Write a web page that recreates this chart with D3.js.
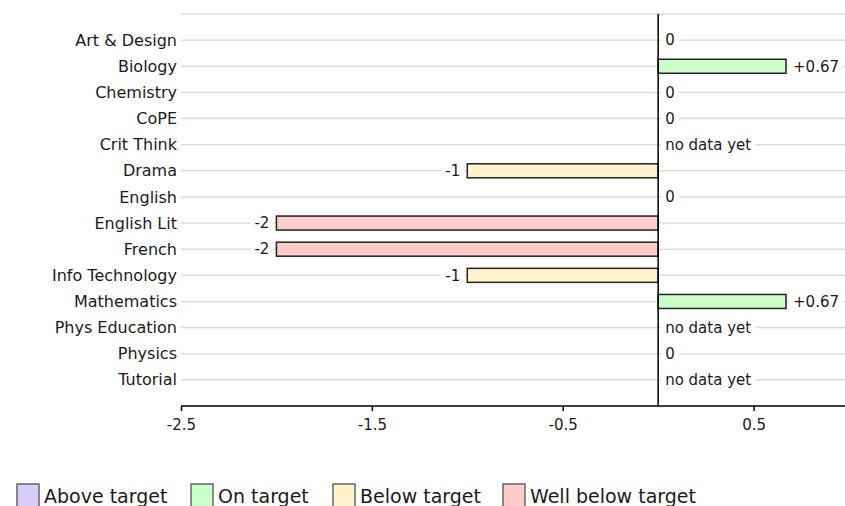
<!DOCTYPE html>
<html>
<head>
<meta charset="utf-8">
<script src="https://cdn.jsdelivr.net/npm/d3@7"></script>
<style>
    body { margin: 0; background: #fff; }
    svg text { font-family: "DejaVu Sans", Verdana, sans-serif; fill: #1a1a1a; }
</style>
</head>
<body>
<svg id="chart" width="845" height="506"></svg>
<script>
// subjects top to bottom
var subjects = ["Art & Design", "Biology", "Chemistry", "CoPE", "Crit Think", "Drama", "English",
    "English Lit", "French", "Info Technology", "Mathematics", "Phys Education", "Physics", "Tutorial"];
// null = no data yet
var values = [0, 0.67, 0, 0, null, -1, 0, -2, -2, -1, 0.67, null, 0, null];
var valueLabels = ["0", "+0.67", "0", "0", "no data yet", "-1", "0", "-2", "-2", "-1", "+0.67", "no data yet", "0", "no data yet"];
var bands = ["", "On target", "", "", "", "Below target", "", "Well below target", "Well below target",
    "Below target", "On target", "", "", ""];
var xTicks = [-2.5, -1.5, -0.5, 0.5];
var legendNames = ["Above target", "On target", "Below target", "Well below target"];
var legendColors = ["#d9ccff", "#ccffcc", "#fff2cc", "#ffcccc"];

var svg = d3.select("#chart");
var plotLeft = 181, plotRight = 849, plotTop = 14, plotBottom = 406;

var x = d3.scaleLinear().domain([-2.5, 1]).range([plotLeft, plotRight]);
// one empty slot above and below, so the top gridline sits on the edge
var y = d3.scalePoint().domain(["_top"].concat(subjects).concat(["_bot"])).range([plotTop, plotBottom]);
var colour = d3.scaleOrdinal().domain(legendNames).range(legendColors);
var barH = 14;

var rows = subjects.map(function (s, i) {
    return { name: s, v: values[i], lab: valueLabels[i], band: bands[i] };
});

// gridlines
svg.append("g").selectAll("line")
    .data(["_top"].concat(subjects))
    .enter().append("line")
    .attr("x1", plotLeft).attr("x2", 845)
    .attr("y1", function (d) { return y(d); })
    .attr("y2", function (d) { return y(d); })
    .attr("stroke", "#dcdcdc").attr("stroke-width", 1.5);

// category labels
svg.append("g").selectAll("text")
    .data(subjects)
    .enter().append("text")
    .attr("x", plotLeft - 4)
    .attr("y", function (d) { return y(d); })
    .attr("dy", "0.35em")
    .attr("text-anchor", "end")
    .attr("font-size", 16)
    .text(function (d) { return d; });

// bars
svg.append("g").selectAll("rect")
    .data(rows.filter(function (r) { return r.v !== null && r.v !== 0; }))
    .enter().append("rect")
    .attr("x", function (r) { return x(Math.min(0, r.v)); })
    .attr("width", function (r) { return Math.abs(x(r.v) - x(0)); })
    .attr("y", function (r) { return y(r.name) - barH / 2; })
    .attr("height", barH)
    .attr("fill", function (r) { return colour(r.band); })
    .attr("stroke", "#222").attr("stroke-width", 1.5);

// value labels with a white backing so the gridline breaks around them
var labs = svg.append("g").selectAll("g")
    .data(rows)
    .enter().append("g");
labs.append("text")
    .attr("font-size", 15)
    .attr("dy", "0.35em")
    .attr("y", function (r) { return y(r.name); })
    .attr("x", function (r) {
        if (r.v === null || r.v === 0) return x(0) + 7;
        return r.v > 0 ? x(r.v) + 7 : x(r.v) - 7;
    })
    .attr("text-anchor", function (r) { return r.v !== null && r.v < 0 ? "end" : "start"; })
    .text(function (r) { return r.lab; })
    .each(function () {
        var b = this.getBBox();
        d3.select(this.parentNode).insert("rect", "text")
            .attr("x", b.x - 4).attr("y", b.y + 2)
            .attr("width", b.width + 8).attr("height", b.height - 4)
            .attr("fill", "#fff");
    });

// zero line
svg.append("line")
    .attr("x1", x(0)).attr("x2", x(0))
    .attr("y1", plotTop).attr("y2", plotBottom)
    .attr("stroke", "#000").attr("stroke-width", 1.5);

// x axis
var axis = svg.append("g")
    .attr("transform", "translate(0," + plotBottom + ")")
    .call(d3.axisBottom(x).tickValues(xTicks).tickSize(5).tickSizeOuter(0)
        .tickFormat(function (d) { return String(d); }));
axis.select(".domain").attr("stroke", "#000").attr("stroke-width", 1.5)
    .attr("d", "M" + plotLeft + ",0H845");
axis.selectAll(".tick line").attr("stroke", "#000").attr("stroke-width", 1.5);
axis.selectAll(".tick text").attr("font-size", 15)
    .attr("font-family", "DejaVu Sans, Verdana, sans-serif")
    .attr("fill", "#1a1a1a").attr("y", 10).attr("dy", "0.9em");

// legend
var lx = [17, 191, 333, 503];
var leg = svg.append("g").selectAll("g")
    .data(legendNames)
    .enter().append("g")
    .attr("transform", function (d, i) { return "translate(" + lx[i] + ",484)"; });
leg.append("rect")
    .attr("width", 22).attr("height", 24)
    .attr("fill", function (d) { return colour(d); })
    .attr("stroke", "#666").attr("stroke-width", 1.5);
leg.append("text")
    .attr("x", 27).attr("y", 12).attr("dy", "0.35em")
    .attr("font-size", 19)
    .text(function (d) { return d; });
</script>
</body>
</html>
